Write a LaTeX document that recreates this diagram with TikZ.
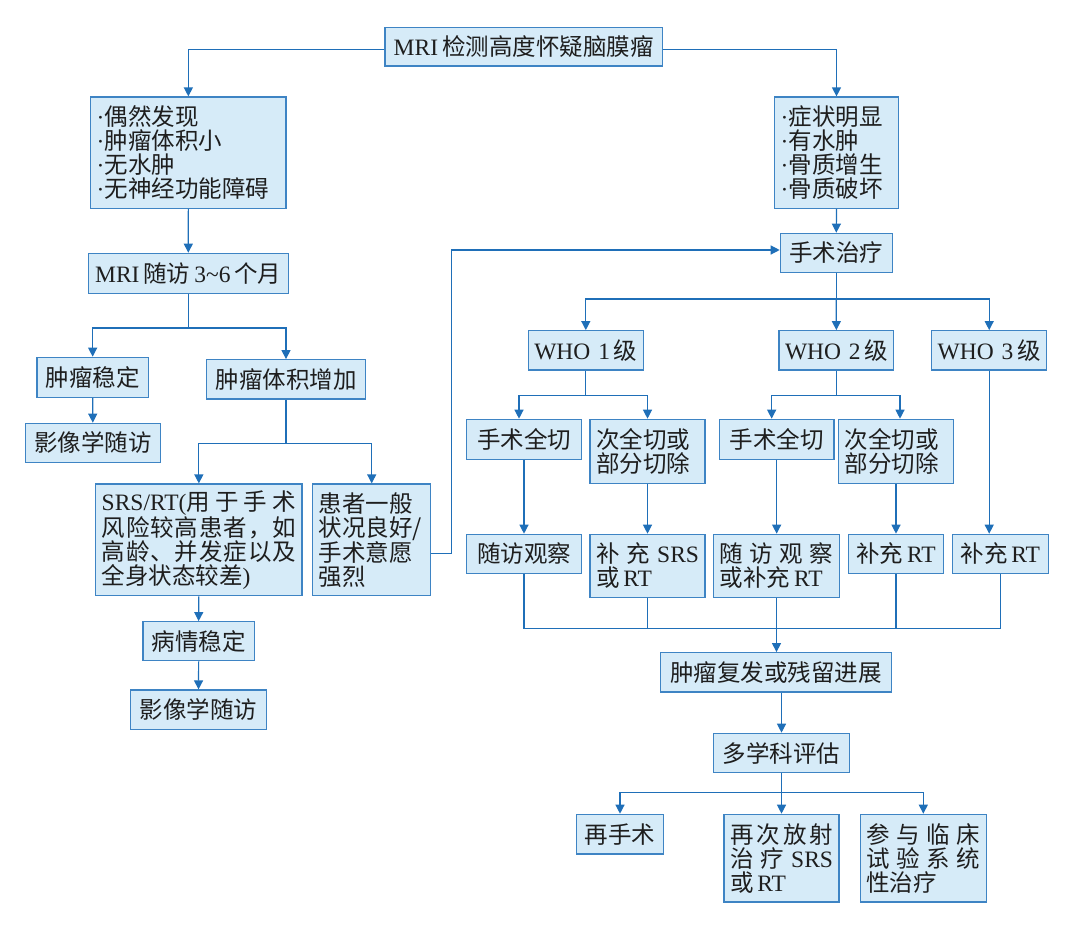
\documentclass[tikz,border=0pt]{standalone}
\usepackage{fontspec}
\setmainfont{Noto Sans CJK SC}
\newfontfamily\lat{Liberation Serif}
\usetikzlibrary{arrows.meta,calc}
\definecolor{boxfill}{RGB}{214,235,248}
\definecolor{boxline}{RGB}{62,132,196}
\definecolor{conn}{RGB}{31,111,184}
\definecolor{txt}{RGB}{30,30,30}
\tikzset{
  box/.style={draw=boxline, fill=boxfill, line width=1.2pt, inner xsep=8pt, inner ysep=0pt,
    text=txt, font=\fontsize{23.5}{24}\selectfont},
  ln/.style={draw=conn, line width=1.2pt},
  arr/.style={ln, -{Triangle[length=9pt,width=9pt]}},
}
\newcommand\jl[1]{\makebox[\linewidth][s]{#1}}
\newcommand\bx[7][align=center]{%
  \pgfmathsetmacro\bxw{#4-#2}\pgfmathsetmacro\bxh{#5-#3}\pgfmathsetmacro\bxt{#4-#2-12}%
  \node[box,#1,minimum width=\bxw pt,minimum height=\bxh pt,text width=\bxt pt,inner xsep=6pt]
    (#6) at ({(#2+#4)/2},{(#3+#5)/2}) {#7};}
\begin{document}
\begin{tikzpicture}[x=1pt,y=-1pt]
\useasboundingbox (0,0) rectangle (1073,934);
% nodes
\bx{385}{27.3}{662.3}{66}{top}{\mbox{{\lat MRI}\,检测高度怀疑脑膜瘤}}
\bx[align=left,inner xsep=8pt]{90.7}{97}{286}{208.3}{lb}{{\lat ·}偶然发现\\{\lat ·}肿瘤体积小\\{\lat ·}无水肿\\{\lat ·}无神经功能障碍}
\bx[align=left]{774.7}{97}{898.3}{208.3}{rb}{{\lat ·}症状明显\\{\lat ·}有水肿\\{\lat ·}骨质增生\\{\lat ·}骨质破坏}
\bx{88.3}{253.3}{288.3}{293.3}{mri}{\mbox{{\lat MRI}\,随访\,{\lat 3\char`\~6}\,个月}}
\bx{780.3}{233.3}{892.3}{272.7}{ss}{手术治疗}
\bx{37}{357.3}{148.3}{397.3}{wd}{肿瘤稳定}
\bx{25.3}{423.3}{160.3}{462.3}{yx1}{影像学随访}
\bx{206.3}{359.7}{365.7}{399}{zj}{肿瘤体积增加}
\bx[align=left]{95.7}{484}{302}{595.7}{srs}{\jl{{\lat SRS/RT(}用\hfil 于\hfil 手\hfil 术}\\\jl{风\hfil 险\hfil 较\hfil 高\hfil 患\hfil 者\hfil ，\hfil 如}\\\jl{高\hfil 龄\hfil 、\hfil 并\hfil 发\hfil 症\hfil 以\hfil 及}\\全身状态较差{\lat )}}
\bx[align=left]{312.7}{484}{430.7}{595.7}{hz}{患者一般\\状况良好/\\手术意愿\\强烈}
\bx{143}{621.7}{254.3}{660.7}{bq}{病情稳定}
\bx{130.7}{690}{266.3}{729.3}{yx2}{影像学随访}
\bx{528.3}{330.7}{643.3}{370}{who1}{\mbox{{\lat WHO~1}\,级}}
\bx{779}{330.7}{893.7}{370}{who2}{\mbox{{\lat WHO~2}\,级}}
\bx{931.7}{330.7}{1046.7}{370}{who3}{\mbox{{\lat WHO~3}\,级}}
\bx{466.7}{419.3}{581.3}{459.3}{qq1}{手术全切}
\bx[align=left]{590}{419.3}{705}{483.3}{cq1}{次全切或\\部分切除}
\bx{719.3}{419.3}{834}{459.3}{qq2}{手术全切}
\bx[align=left]{838.7}{419.3}{953.3}{483.3}{cq2}{次全切或\\部分切除}
\bx{466.7}{534.3}{581.3}{573.3}{sf1}{随访观察}
\bx[align=left]{590}{534.3}{705}{597.3}{bc1}{\jl{补\hfil 充\hfil {\lat SRS}}\\或\,{\lat RT}}
\bx[align=left]{713.7}{534.3}{839.3}{597.3}{sf2}{\jl{随\hfil 访\hfil 观\hfil 察}\\或补充\,{\lat RT}}
\bx{848.3}{534.3}{943.7}{573.3}{bc2}{\mbox{补充\,{\lat RT}}}
\bx{952.3}{534.3}{1048.3}{573.3}{bc3}{\mbox{补充\,{\lat RT}}}
\bx{660.3}{652.7}{891.7}{692}{fl}{肿瘤复发或残留进展}
\bx{713.7}{733.3}{849.3}{772.7}{dx}{多学科评估}
\bx{576.3}{814.3}{663.7}{854}{zs}{再手术}
\bx[align=left]{724}{814.3}{839}{902}{fs}{\jl{再\hfil 次\hfil 放\hfil 射}\\\jl{治\hfil 疗\hfil {\lat SRS}}\\或\,{\lat RT}}
\bx[align=left]{860.3}{814.3}{986.3}{902}{lc}{\jl{参\hfil 与\hfil 临\hfil 床}\\\jl{试\hfil 验\hfil 系\hfil 统}\\性治疗}
% connectors
\draw[arr] ([yshift=-2.6pt]top.west) -| (lb.north);
\draw[arr] ([yshift=-2.6pt]top.east) -| (rb.north);
\draw[arr] (lb.south) -- (mri.north);
\draw[arr] (rb.south) -- (ss.north);
\draw[ln] (mri.south) -- ++(0,34) coordinate (m1);
\draw[arr] (m1) -| (wd.north);
\draw[arr] (m1) -| (zj.north);
\draw[arr] (wd.south) -- (yx1.north);
\draw[ln] (zj.south) -- ++(0,43.7) coordinate (z1);
\draw[arr] (z1) -| (srs.north);
\draw[arr] (z1) -| (hz.north);
\draw[arr] (srs.south) -- (bq.north);
\draw[arr] (bq.south) -- (yx2.north);
\draw[arr] ([yshift=-14pt]hz.east) -- ++(20,0) |- ([yshift=3pt]ss.west);
\draw[ln] (ss.south) -- ++(0,25.6) coordinate (s1);
\draw[arr] (s1) -| (who1.north);
\draw[arr] (s1) -- (who2.north);
\draw[arr] (s1) -| (who3.north);
\draw[ln] (who1.south) -- ++(0,25) coordinate (w1);
\draw[arr] (w1) -| ([xshift=-5pt]qq1.north);
\draw[arr] (w1) -| (cq1.north);
\draw[ln] (who2.south) -- ++(0,25) coordinate (w2);
\draw[arr] (w2) -| ([xshift=-5pt]qq2.north);
\draw[arr] (w2) -| ([xshift=4pt]cq2.north);
\draw[arr] (qq1.south) -- (sf1.north);
\draw[arr] (cq1.south) -- (bc1.north);
\draw[arr] (qq2.south) -- (qq2.south |- sf2.north);
\draw[arr] (cq2.south) -- (bc2.north);
\draw[arr] (who3.south) -- (who3.south |- bc3.north);
\draw[ln] (sf1.south) -- ++(0,54.2) coordinate (mL) -- (mL -| bc3.south) -- (bc3.south);
\draw[ln] (bc1.south) -- (bc1.south |- mL);
\draw[ln] (bc2.south) -- (bc2.south |- mL);
\draw[arr] (sf2.south) -- (sf2.south |- fl.north);
\draw[arr] (fl.south -| dx.north) -- (dx.north);
\draw[ln] (dx.south) -- ++(0,19) coordinate (d1);
\draw[arr] (d1) -| (zs.north);
\draw[arr] (d1) -- (fs.north);
\draw[arr] (d1) -| (lc.north);
\end{tikzpicture}
\end{document}
